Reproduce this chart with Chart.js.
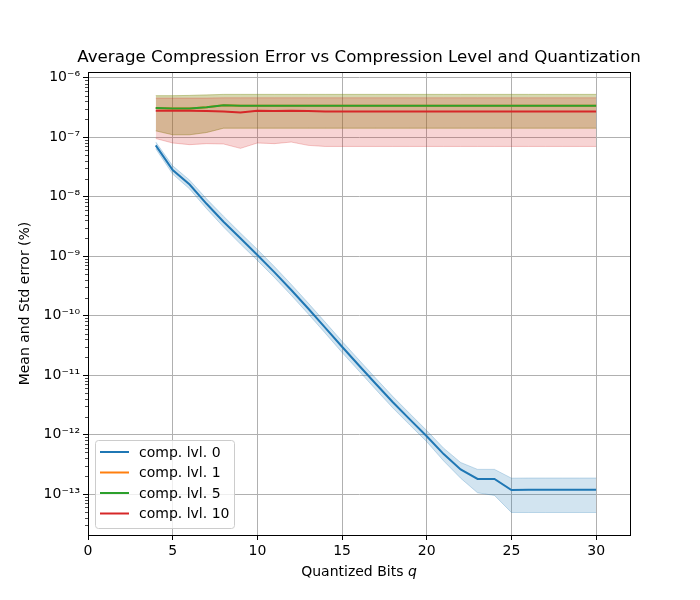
<!DOCTYPE html>
<html>
<head>
<meta charset="utf-8">
<script src="https://cdn.jsdelivr.net/npm/chart.js@4.4.1/dist/chart.umd.min.js"></script>
<style>
  html, body { margin: 0; padding: 0; background: #fff; }
</style>
</head>
<body>
<canvas id="chart" width="700" height="600"></canvas>
<script>
// quantized bits on the x axis
const qBits = [4, 5, 6, 7, 8, 9, 10, 11, 12, 13, 14, 15, 16, 17, 18, 19, 20, 21, 22, 23, 24, 25, 26, 27, 28, 29, 30];

const seriesNames = ['comp. lvl. 0', 'comp. lvl. 1', 'comp. lvl. 5', 'comp. lvl. 10'];

// comp. lvl. 0
const lvl0Mean = [7.3e-8, 2.8e-8, 1.6e-8, 7.6e-9, 3.8e-9, 2.0e-9, 1.05e-9, 5.4e-10, 2.7e-10, 1.32e-10, 6.3e-11, 3.0e-11, 1.45e-11, 7.1e-12, 3.5e-12, 1.8e-12, 9.4e-13, 4.7e-13, 2.6e-13, 1.8e-13, 1.8e-13, 1.17e-13, 1.18e-13, 1.18e-13, 1.18e-13, 1.18e-13, 1.18e-13];
const lvl0Upper = [8.3e-8, 3.3e-8, 1.9e-8, 9.2e-9, 4.7e-9, 2.45e-9, 1.3e-9, 6.7e-10, 3.35e-10, 1.63e-10, 7.8e-11, 3.7e-11, 1.8e-11, 8.8e-12, 4.35e-12, 2.25e-12, 1.17e-12, 5.9e-13, 3.4e-13, 2.6e-13, 2.6e-13, 1.85e-13, 1.86e-13, 1.86e-13, 1.86e-13, 1.86e-13, 1.86e-13];
const lvl0Lower = [6.4e-8, 2.4e-8, 1.35e-8, 6.3e-9, 3.1e-9, 1.6e-9, 8.5e-10, 4.4e-10, 2.2e-10, 1.07e-10, 5.1e-11, 2.4e-11, 1.17e-11, 5.7e-12, 2.8e-12, 1.45e-12, 7.6e-13, 3.6e-13, 1.85e-13, 1.05e-13, 9.5e-14, 4.9e-14, 4.9e-14, 4.9e-14, 4.9e-14, 4.9e-14, 4.9e-14];

// comp. lvl. 1 (hidden under lvl. 5)
const lvl1Mean = [3.1e-7, 3.05e-7, 3.05e-7, 3.2e-7, 3.45e-7, 3.4e-7, 3.4e-7, 3.4e-7, 3.4e-7, 3.4e-7, 3.4e-7, 3.4e-7, 3.4e-7, 3.4e-7, 3.4e-7, 3.4e-7, 3.4e-7, 3.4e-7, 3.4e-7, 3.4e-7, 3.4e-7, 3.4e-7, 3.4e-7, 3.4e-7, 3.4e-7, 3.4e-7, 3.4e-7];
const lvl1Upper = [5.0e-7, 5.0e-7, 5.05e-7, 5.15e-7, 5.25e-7, 5.25e-7, 5.25e-7, 5.25e-7, 5.25e-7, 5.25e-7, 5.25e-7, 5.25e-7, 5.25e-7, 5.25e-7, 5.25e-7, 5.25e-7, 5.25e-7, 5.25e-7, 5.25e-7, 5.25e-7, 5.25e-7, 5.25e-7, 5.25e-7, 5.25e-7, 5.25e-7, 5.25e-7, 5.25e-7];
const lvl1Lower = [1.28e-7, 1.1e-7, 1.1e-7, 1.2e-7, 1.42e-7, 1.42e-7, 1.42e-7, 1.42e-7, 1.42e-7, 1.42e-7, 1.42e-7, 1.42e-7, 1.42e-7, 1.42e-7, 1.42e-7, 1.42e-7, 1.42e-7, 1.42e-7, 1.42e-7, 1.42e-7, 1.42e-7, 1.42e-7, 1.42e-7, 1.42e-7, 1.42e-7, 1.42e-7, 1.42e-7];

// comp. lvl. 5
const lvl5Mean = [3.1e-7, 3.05e-7, 3.05e-7, 3.2e-7, 3.45e-7, 3.4e-7, 3.4e-7, 3.4e-7, 3.4e-7, 3.4e-7, 3.4e-7, 3.4e-7, 3.4e-7, 3.4e-7, 3.4e-7, 3.4e-7, 3.4e-7, 3.4e-7, 3.4e-7, 3.4e-7, 3.4e-7, 3.4e-7, 3.4e-7, 3.4e-7, 3.4e-7, 3.4e-7, 3.4e-7];
const lvl5Upper = [5.0e-7, 5.0e-7, 5.05e-7, 5.15e-7, 5.25e-7, 5.25e-7, 5.25e-7, 5.25e-7, 5.25e-7, 5.25e-7, 5.25e-7, 5.25e-7, 5.25e-7, 5.25e-7, 5.25e-7, 5.25e-7, 5.25e-7, 5.25e-7, 5.25e-7, 5.25e-7, 5.25e-7, 5.25e-7, 5.25e-7, 5.25e-7, 5.25e-7, 5.25e-7, 5.25e-7];
const lvl5Lower = [1.28e-7, 1.1e-7, 1.1e-7, 1.2e-7, 1.42e-7, 1.42e-7, 1.42e-7, 1.42e-7, 1.42e-7, 1.42e-7, 1.42e-7, 1.42e-7, 1.42e-7, 1.42e-7, 1.42e-7, 1.42e-7, 1.42e-7, 1.42e-7, 1.42e-7, 1.42e-7, 1.42e-7, 1.42e-7, 1.42e-7, 1.42e-7, 1.42e-7, 1.42e-7, 1.42e-7];

// comp. lvl. 10
const lvl10Mean = [2.8e-7, 2.8e-7, 2.8e-7, 2.75e-7, 2.7e-7, 2.6e-7, 2.8e-7, 2.75e-7, 2.8e-7, 2.75e-7, 2.7e-7, 2.7e-7, 2.7e-7, 2.7e-7, 2.7e-7, 2.7e-7, 2.7e-7, 2.7e-7, 2.7e-7, 2.7e-7, 2.7e-7, 2.7e-7, 2.7e-7, 2.7e-7, 2.7e-7, 2.7e-7, 2.7e-7];
const lvl10Upper = [4.55e-7, 4.55e-7, 4.55e-7, 4.55e-7, 4.6e-7, 4.6e-7, 4.6e-7, 4.6e-7, 4.6e-7, 4.6e-7, 4.6e-7, 4.6e-7, 4.6e-7, 4.6e-7, 4.6e-7, 4.6e-7, 4.6e-7, 4.6e-7, 4.6e-7, 4.6e-7, 4.6e-7, 4.6e-7, 4.6e-7, 4.6e-7, 4.6e-7, 4.6e-7, 4.6e-7];
const lvl10Lower = [9.5e-8, 8.0e-8, 7.5e-8, 7.8e-8, 7.7e-8, 6.5e-8, 8.0e-8, 7.8e-8, 8.3e-8, 7.3e-8, 7.0e-8, 7.0e-8, 7.0e-8, 7.0e-8, 7.0e-8, 7.0e-8, 7.0e-8, 7.0e-8, 7.0e-8, 7.0e-8, 7.0e-8, 7.0e-8, 7.0e-8, 7.0e-8, 7.0e-8, 7.0e-8, 7.0e-8];

// ticks
const xTicks = [0, 5, 10, 15, 20, 25, 30];
const yMajorExps = [-13, -12, -11, -10, -9, -8, -7, -6];
const xMin = 0, xMax = 32;
const yMin = 2.05e-14, yMax = 1.25e-6;

const chartTitle = 'Average Compression Error vs Compression Level and Quantization';

const colors = ['31,119,180', '255,127,14', '44,160,44', '214,39,40'];
const means = [lvl0Mean, lvl1Mean, lvl5Mean, lvl10Mean];
const uppers = [lvl0Upper, lvl1Upper, lvl5Upper, lvl10Upper];
const lowers = [lvl0Lower, lvl1Lower, lvl5Lower, lvl10Lower];

function pts(arr) {
  return qBits.map((q, i) => ({ x: q, y: arr[i] }));
}

const datasets = [];
// bands first, then the mean lines on top
seriesNames.forEach((name, s) => {
  datasets.push({
    data: pts(lowers[s]),
    borderColor: `rgba(${colors[s]},0.25)`,
    borderWidth: 1,
    pointRadius: 0,
    fill: false
  });
  datasets.push({
    data: pts(uppers[s]),
    borderColor: `rgba(${colors[s]},0.25)`,
    backgroundColor: `rgba(${colors[s]},0.2)`,
    borderWidth: 1,
    pointRadius: 0,
    fill: '-1'
  });
});
seriesNames.forEach((name, s) => {
  datasets.push({
    label: name,
    data: pts(means[s]),
    borderColor: `rgb(${colors[s]})`,
    borderWidth: 2,
    pointRadius: 0,
    fill: false
  });
});
datasets.forEach((d, i) => { d.order = 100 - i; d.tension = 0; });

const sup = { '-': '\u207B', '0': '\u2070', '1': '\u00B9', '2': '\u00B2', '3': '\u00B3', '4': '\u2074', '5': '\u2075', '6': '\u2076', '7': '\u2077', '8': '\u2078', '9': '\u2079' };
function powLabel(e) {
  return '10' + String(e).split('').map(c => sup[c]).join('');
}

const FONT = "'DejaVu Sans', sans-serif";

// title, frame, minor ticks, legend and x label
const extras = {
  id: 'extras',
  afterDraw(chart) {
    const ctx = chart.ctx;
    const a = chart.chartArea;
    ctx.save();

    // minor ticks on the log axis
    const ys = chart.scales.y;
    ctx.strokeStyle = '#000';
    ctx.lineWidth = 0.7;
    ys.ticks.forEach(t => {
      if (t.pow !== undefined) return;
      const py = Math.round(ys.getPixelForValue(t.value)) + 0.5;
      ctx.beginPath();
      ctx.moveTo(a.left - 3, py);
      ctx.lineTo(a.left, py);
      ctx.stroke();
    });

    // axes box
    ctx.lineWidth = 1;
    ctx.strokeRect(Math.round(a.left) + 0.5, Math.round(a.top) + 0.5,
      Math.round(a.right - a.left), Math.round(a.bottom - a.top));

    const cx = (a.left + a.right) / 2;
    ctx.fillStyle = '#000';
    ctx.textBaseline = 'middle';

    // title centred over the axes
    ctx.textAlign = 'center';
    ctx.font = `16.7px ${FONT}`;
    ctx.fillText(chartTitle, cx, 58);

    // x axis label with italic q
    ctx.font = `14px ${FONT}`;
    const t1 = 'Quantized Bits ';
    const w1 = ctx.measureText(t1).width;
    ctx.font = `italic 14px ${FONT}`;
    const w2 = ctx.measureText('q').width;
    const x0 = cx - (w1 + w2) / 2;
    ctx.textAlign = 'left';
    ctx.font = `14px ${FONT}`;
    ctx.fillText(t1, x0, 572);
    ctx.font = `italic 14px ${FONT}`;
    ctx.fillText('q', x0 + w1, 572);

    // legend
    const lx = 95, ly = 440, lw = 139, lh = 88;
    ctx.beginPath();
    ctx.roundRect(lx + 0.5, ly + 0.5, lw, lh, 3);
    ctx.fillStyle = 'rgba(255,255,255,0.8)';
    ctx.fill();
    ctx.strokeStyle = '#cccccc';
    ctx.lineWidth = 1;
    ctx.stroke();
    ctx.font = `14px ${FONT}`;
    seriesNames.forEach((name, s) => {
      const y = ly + 12 + s * 20.5;
      ctx.strokeStyle = `rgb(${colors[s]})`;
      ctx.lineWidth = 2;
      ctx.beginPath();
      ctx.moveTo(100, y);
      ctx.lineTo(129, y);
      ctx.stroke();
      ctx.fillStyle = '#000';
      ctx.fillText(name, 139, y + 1);
    });
    ctx.restore();
  }
};

new Chart(document.getElementById('chart'), {
  type: 'line',
  data: { datasets },
  options: {
    responsive: false,
    animation: false,
    layout: { padding: { left: 0, right: 70, top: 72, bottom: 0 } },
    plugins: {
      legend: { display: false },
      tooltip: { enabled: false },
      title: { display: false }
    },
    scales: {
      x: {
        type: 'linear',
        min: xMin,
        max: xMax,
        afterBuildTicks: (scale) => { scale.ticks = xTicks.map(v => ({ value: v })); },
        afterFit: (scale) => { scale.height = 65; },
        ticks: { color: '#000', font: { family: FONT, size: 14 }, padding: 3, maxRotation: 0 },
        grid: { color: '#b0b0b0', lineWidth: 1, tickColor: '#000', tickLength: 5 },
        border: { color: '#000', width: 1 }
      },
      y: {
        type: 'logarithmic',
        min: yMin,
        max: yMax,
        afterBuildTicks: (scale) => {
          const t = [];
          for (let e = -14; e <= -6; e++) {
            for (let m = 1; m <= 9; m++) {
              const v = m * Math.pow(10, e);
              if (v < yMin || v > yMax) continue;
              const tick = { value: v };
              if (m === 1 && yMajorExps.includes(e)) tick.pow = e;
              t.push(tick);
            }
          }
          scale.ticks = t;
        },
        afterFit: (scale) => { scale.width = 88; },
        ticks: {
          autoSkip: false,
          color: '#000',
          font: { family: FONT, size: 14 },
          padding: 3,
          callback: (v, i, ticks) => ticks[i].pow !== undefined ? powLabel(ticks[i].pow) : ''
        },
        grid: {
          lineWidth: 1,
          tickLength: 5,
          color: (c) => (c.tick && c.tick.pow !== undefined) ? '#b0b0b0' : 'rgba(0,0,0,0)',
          tickColor: (c) => (c.tick && c.tick.pow !== undefined) ? '#000' : 'rgba(0,0,0,0)'
        },
        border: { color: '#000', width: 1 },
        title: {
          display: true,
          text: 'Mean and Std error (%)',
          color: '#000',
          font: { family: FONT, size: 14 },
          padding: { top: 17, bottom: 0 }
        }
      }
    }
  },
  plugins: [extras]
});
</script>
</body>
</html>
